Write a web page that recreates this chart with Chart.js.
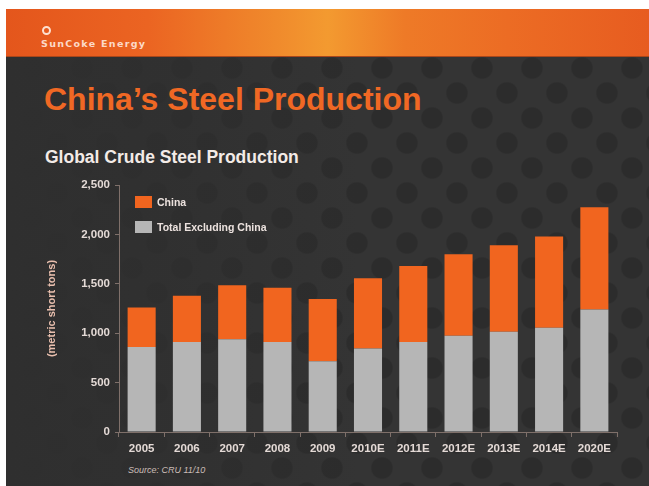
<!DOCTYPE html>
<html>
<head>
<meta charset="utf-8">
<script src="https://cdn.jsdelivr.net/npm/chart.js@4"></script>
<style>
    html, body { margin: 0; padding: 0; background: #fff; }
    body { width: 649px; height: 486px; position: relative; overflow: hidden; font-family: "Liberation Sans", Arial, sans-serif; }
    .slide {
        position: absolute; left: 6px; top: 9px; width: 643px; height: 477px;
        background-color: #343434;
        background-image:
            linear-gradient(90deg, rgba(47,47,47,1) 0%, rgba(47,47,47,0.75) 25%, rgba(47,47,47,0) 55%),
            radial-gradient(circle, #2c2c2c 10px, rgba(44,44,44,0) 11.5px),
            radial-gradient(circle, #2c2c2c 10px, rgba(44,44,44,0) 11.5px);
        background-size: 100% 100%, 50px 50px, 50px 50px;
        background-position: 0 0, -24px 9px, 1px -16px;
        background-repeat: no-repeat, repeat, repeat;
    }
    .banner {
        position: absolute; left: 0; top: 0; width: 100%; height: 47px;
        background: linear-gradient(90deg, #e4561c 0%, #eb6422 22%, #f08a2c 42%, #f39a30 50%, #ee7a27 62%, #ec6c24 78%, #e75c20 100%);
        border-bottom: 1px solid #a9461a;
    }
    .logo-icon {
        position: absolute; left: 36px; top: 17px; width: 5px; height: 5px;
        border: 2px solid #fde0d0; border-radius: 50%;
    }
    .logo-text {
        position: absolute; left: 35px; top: 29px; font-family: "DejaVu Sans", sans-serif;
        font-weight: bold; font-size: 9.5px; letter-spacing: 1.3px; color: #fcd9c8; line-height: 12px;
    }
    .title {
        position: absolute; left: 38px; top: 74px; font-size: 32px; line-height: 32px;
        font-weight: bold; color: #f06824; white-space: nowrap;
    }
    .subtitle {
        position: absolute; left: 39px; top: 140px; font-size: 17.5px; line-height: 17px;
        font-weight: bold; color: #f3ebe7; white-space: nowrap;
    }
    .source {
        position: absolute; left: 122px; top: 457px; font-size: 9px; line-height: 9px;
        font-style: italic; color: #cbbdb7; white-space: nowrap;
    }
    #legend { position: absolute; left: 135px; top: 196px; }
    .leg-item { position: relative; height: 25px; }
    .leg-box { position: absolute; left: 0; top: 0; width: 17px; height: 12px; }
    .leg-text {
        position: absolute; left: 22px; top: 0; font-size: 10.5px; line-height: 12px;
        font-weight: bold; color: #ece2de; white-space: nowrap;
    }
    #wrap { position: absolute; left: 0; top: 0; width: 649px; height: 486px; }
</style>
</head>
<body>
<div class="slide">
    <div class="banner">
        <div class="logo-icon"></div>
        <div class="logo-text">SunCoke Energy</div>
    </div>
    <div class="title">China’s Steel Production</div>
    <div class="subtitle">Global Crude Steel Production</div>
    <div class="source">Source: CRU 11/10</div>
</div>
<div id="wrap"><canvas id="chartAco"></canvas></div>
<div id="legend"></div>

<script>
const anos = ['2005', '2006', '2007', '2008', '2009', '2010E', '2011E', '2012E', '2013E', '2014E', '2020E'];
const totalSemChina = [860, 910, 940, 910, 715, 845, 910, 975, 1015, 1055, 1240];
const china = [400, 470, 545, 550, 630, 710, 770, 825, 875, 925, 1035];
const nomesSeries = ['Total Excluding China', 'China'];
const tituloEixoY = '(metric short tons)';

const corChina = '#f1651f';
const corResto = '#b6b6b6';
const corEixo = '#7f706a';
const corTexto = '#e4dad6';
const fonte = "'Liberation Sans', Arial, sans-serif";

const ctx = document.getElementById('chartAco');
const grafico = new Chart(ctx, {
    type: 'bar',
    data: {
        labels: anos,
        datasets: [
            { label: nomesSeries[0], data: totalSemChina, backgroundColor: corResto, borderWidth: 0 },
            { label: nomesSeries[1], data: china, backgroundColor: corChina, borderWidth: 0 }
        ]
    },
    options: {
        responsive: true,
        maintainAspectRatio: false,
        animation: false,
        layout: { padding: { top: 185, right: 32, bottom: 0, left: 0 } },
        datasets: { bar: { categoryPercentage: 1, barPercentage: 0.62 } },
        plugins: {
            legend: { display: false },
            tooltip: { enabled: false }
        },
        scales: {
            x: {
                stacked: true,
                grid: { drawOnChartArea: false, tickLength: 5, color: corEixo, offset: true },
                border: { color: corEixo },
                ticks: {
                    color: corTexto, padding: 5, maxRotation: 0, autoSkip: false,
                    font: { family: fonte, size: 11.5, weight: 'bold' }
                },
                afterFit: s => { s.height = 54; }
            },
            y: {
                stacked: true,
                min: 0,
                max: 2500,
                grid: { drawOnChartArea: false, tickLength: 4, color: corEixo },
                border: { color: corEixo },
                ticks: {
                    stepSize: 500, color: corTexto, padding: 5,
                    font: { family: fonte, size: 11.5, weight: 'bold' },
                    callback: v => v.toLocaleString('en-US')
                },
                title: {
                    display: true, text: tituloEixoY, color: '#e9bfae',
                    font: { family: fonte, size: 11, weight: 'bold' },
                    padding: { top: 45, bottom: 0 }
                },
                afterFit: s => { s.width = 119; }
            }
        }
    }
});

// legenda em html, China primeiro
const legenda = document.getElementById('legend');
grafico.data.datasets.slice().reverse().forEach(ds => {
    const item = document.createElement('div');
    item.className = 'leg-item';
    item.innerHTML = `<div class="leg-box" style="background:${ds.backgroundColor}"></div><div class="leg-text">${ds.label}</div>`;
    legenda.appendChild(item);
});
</script>
</body>
</html>
